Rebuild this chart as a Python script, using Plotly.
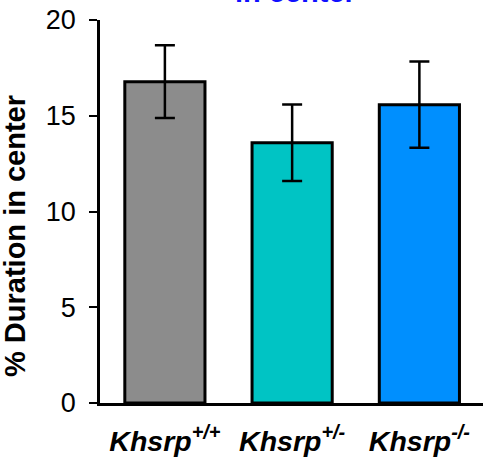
import plotly.graph_objects as go

categories = ["Khsrp+/+", "Khsrp+/-", "Khsrp-/-"]
tick_labels = ["<b><i>Khsrp<sup>+/+</sup></i></b>", "<b><i>Khsrp<sup>+/-</sup></i></b>", "<b><i>Khsrp<sup>-/-</sup></i></b>"]
means = [16.78, 13.59, 15.58]
errors = [1.9, 2.0, 2.25]
colors = ["#8c8c8c", "#00c4c4", "#008ffe"]
y_title = "% Duration in center"
top_title = "in center"

fig = go.Figure()
fig.add_trace(go.Bar(
    x=categories, y=means, width=0.63,
    marker=dict(color=colors, line=dict(color="black", width=3)),
    error_y=dict(type="data", array=errors, visible=True, color="black", thickness=2.5, width=10),
))
fig.update_layout(
    width=483, height=459,
    margin=dict(l=100, r=0, t=20, b=56),
    plot_bgcolor="white", paper_bgcolor="white",
    showlegend=False,
    font=dict(family="Liberation Sans, Arial", color="black"),
    xaxis=dict(
        tickmode="array", tickvals=categories, ticktext=tick_labels, automargin=False,
        range=[-0.51, 2.5], showline=True, linecolor="black", linewidth=2.5,
        ticks="", tickfont=dict(size=28.5), showgrid=False, zeroline=False,
        ticklabelstandoff=11,
    ),
    yaxis=dict(
        range=[0, 20], tickvals=[0, 5, 10, 15, 20], showline=True, linecolor="black",
        linewidth=2.5, ticks="outside", ticklen=8, tickwidth=2, tickcolor="black",
        tickfont=dict(size=27), showgrid=False, zeroline=False, automargin=False,
        ticklabelstandoff=8,
    ),
    annotations=[
        dict(text="<b>" + top_title + "</b>", xref="paper", yref="paper", x=0.51, y=1.027,
             xanchor="center", yanchor="bottom", showarrow=False,
             font=dict(size=29, color="#1010ff")),
        dict(text="<b>" + y_title + "</b>", xref="paper", yref="paper", x=-0.222, y=0.436,
             xanchor="center", yanchor="middle", showarrow=False, textangle=-90,
             font=dict(size=29, color="black")),
    ],
)
fig.write_html("out.html", config={"displayModeBar": False},
               post_script="document.body.style.margin='0px';")
